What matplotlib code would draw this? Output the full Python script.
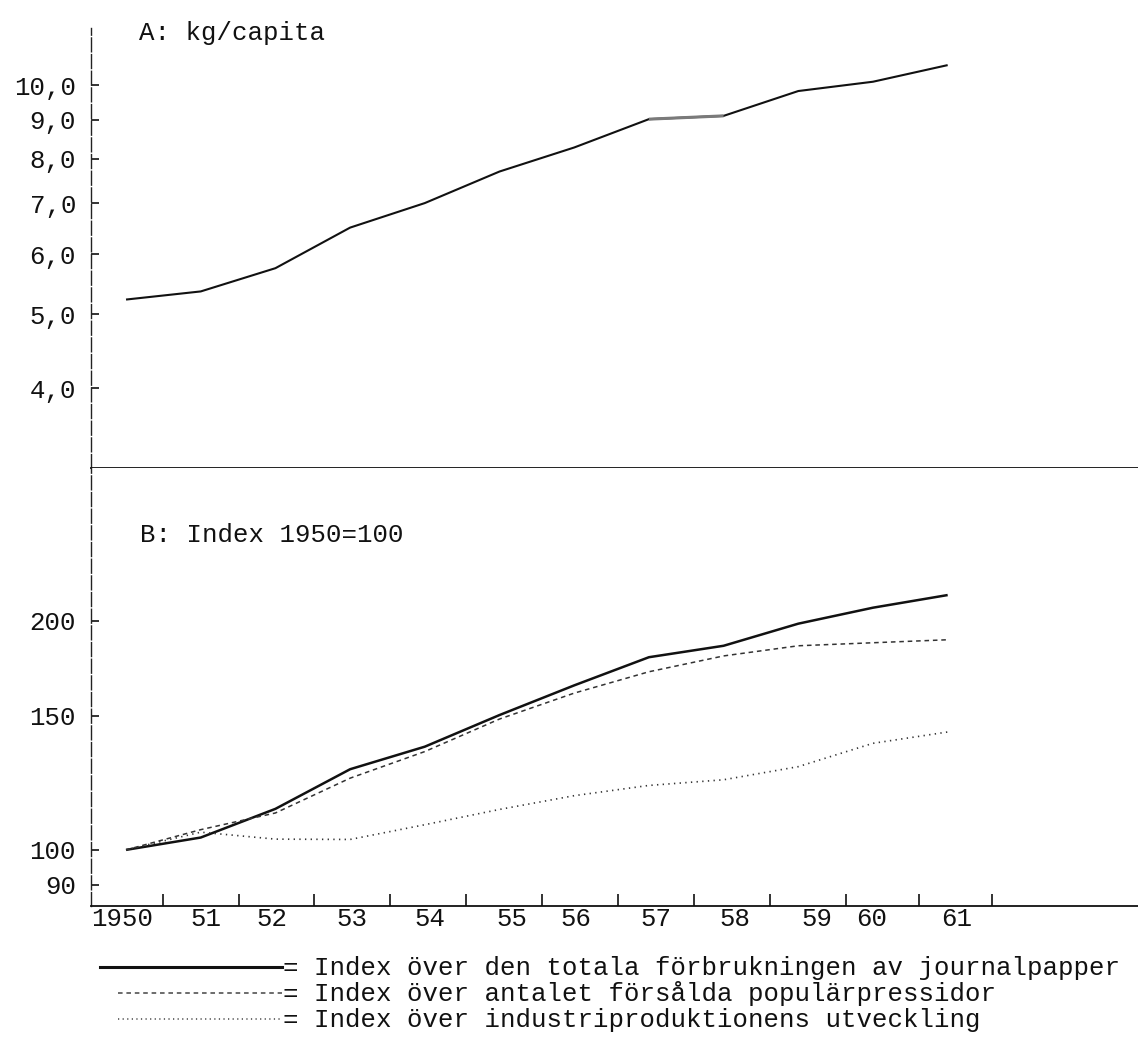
import matplotlib
matplotlib.use('Agg')
import matplotlib.pyplot as plt
from matplotlib.lines import Line2D
from matplotlib.ticker import FixedLocator, NullLocator, FixedFormatter

# ---------------- data ----------------
years = [1950, 1951, 1952, 1953, 1954, 1955, 1956, 1957, 1958, 1959, 1960, 1961]
kg_per_capita = [5.23, 5.36, 5.75, 6.50, 7.00, 7.70, 8.28, 9.02, 9.11, 9.82, 10.10, 10.62]
index_paper = [100, 103.8, 113.2, 127.6, 136.6, 150.3, 164.4, 179.0, 185.3, 198.1, 207.9, 216.0]
index_press = [100, 106.3, 111.8, 124.2, 134.6, 148.5, 160.6, 171.3, 179.7, 185.3, 187.0, 188.7]
index_industry = [100, 105.5, 103.3, 103.2, 107.9, 113.0, 117.8, 121.5, 123.6, 128.6, 138.0, 142.8]

top_ticks = [4, 5, 6, 7, 8, 9, 10]
top_tick_labels = ['4,0', '5,0', '6,0', '7,0', '8,0', '9,0', '10,0']
bottom_ticks = [90, 100, 150, 200]
bottom_tick_labels = ['90', '100', '150', '200']

x_labels = ['1950', '51', '52', '53', '54', '55', '56', '57', '58', '59', '60', '61']
x_label_pos = [1949.95, 1951.07, 1951.95, 1953.02, 1954.07, 1955.16, 1956.02,
               1957.10, 1958.15, 1959.25, 1959.98, 1961.12]
x_tick_marks = [1950.49, 1951.51, 1952.51, 1953.54, 1954.55, 1955.57, 1956.59,
                1957.60, 1958.62, 1959.64, 1960.62, 1961.60]

title_a = 'A: kg/capita'
title_b = 'B: Index 1950=100'
legend_labels = ['= Index över den totala förbrukningen av journalpapper',
                 '= Index över antalet försålda populärpressidor',
                 '= Index över industriproduktionens utveckling']

# ---------------- style ----------------
plt.rcParams['font.family'] = ['Liberation Mono', 'DejaVu Sans Mono']
FS = 18.5
W, H = 1138, 1049
fig = plt.figure(figsize=(W / 100, H / 100), dpi=100)
fig.patch.set_facecolor('white')

left = 91 / W
width = (1138 - 91) / W
ax_top = fig.add_axes([left, 1 - 468 / H, width, 440 / H])
ax_bot = fig.add_axes([left, 1 - 906 / H, width, 438 / H])

xlim = (1949.531, 1963.548)
for ax in (ax_top, ax_bot):
    ax.set_xlim(*xlim)
    ax.set_yscale('log')
    ax.spines['top'].set_visible(False)
    ax.spines['right'].set_visible(False)
    ax.spines['left'].set_linewidth(1.0)
    ax.spines['left'].set_linestyle((0, (10, 2)))
    ax.spines['left'].set_color('#222222')
    ax.spines['bottom'].set_linewidth(1.3)
    ax.spines['bottom'].set_color('#111111')
    ax.yaxis.set_minor_locator(NullLocator())
    ax.tick_params(axis='y', which='major', direction='in', length=6, width=1.2,
                   pad=10.8, labelsize=FS, colors='#111111')

# top panel
ax_top.set_ylim(3.144, 11.88)
ax_top.yaxis.set_major_locator(FixedLocator(top_ticks))
ax_top.yaxis.set_major_formatter(FixedFormatter(top_tick_labels))
ax_top.xaxis.set_major_locator(NullLocator())
ax_top.xaxis.set_minor_locator(NullLocator())
ax_top.plot(years, kg_per_capita, color='#111111', lw=1.5, solid_capstyle='butt')
ax_top.plot(years[7:9], kg_per_capita[7:9], color='#7a7a7a', lw=2.2, solid_capstyle='butt')

# bottom panel
ax_bot.set_ylim(84.4, 317.1)
ax_bot.yaxis.set_major_locator(FixedLocator(bottom_ticks))
ax_bot.yaxis.set_major_formatter(FixedFormatter(bottom_tick_labels))
ax_bot.xaxis.set_major_locator(FixedLocator(x_label_pos))
ax_bot.xaxis.set_major_formatter(FixedFormatter(x_labels))
ax_bot.xaxis.set_minor_locator(FixedLocator(x_tick_marks))
ax_bot.tick_params(axis='x', which='major', length=0, pad=1, labelsize=FS, colors='#111111')
ax_bot.tick_params(axis='x', which='minor', direction='in', length=9, width=1.2, color='#111111')

ax_bot.plot(years, index_paper, color='#111111', lw=1.8, solid_capstyle='butt')
ax_bot.plot(years, index_press, color='#333333', lw=1.1, linestyle=(0, (3, 2.5)))
ax_bot.plot(years, index_industry, color='#333333', lw=1.2, linestyle=(0, (0.8, 2.6)))

# titles
fig.text(139 / W, 1 - 33 / H, title_a, fontsize=FS, va='center', ha='left', color='#111111')
fig.text(140 / W, 1 - 535 / H, title_b, fontsize=FS, va='center', ha='left', color='#111111')

# legend (typed key lines)
legend_y = [967, 993, 1019]
legend_styles = [dict(color='#111111', lw=2.2, linestyle='-'),
                 dict(color='#444444', lw=1.1, linestyle=(0, (3, 2.5))),
                 dict(color='#444444', lw=1.1, linestyle=(0, (0.8, 2.2)))]
legend_x0 = [100, 118, 118]
for yy, st, x0, lab in zip(legend_y, legend_styles, legend_x0, legend_labels):
    fig.add_artist(Line2D([x0 / W, 282 / W], [1 - yy / H, 1 - yy / H], **st))
    fig.text(283 / W, 1 - (yy + 1) / H, lab, fontsize=FS, va='center', ha='left', color='#111111')

fig.savefig('out.png', dpi=100, facecolor='white')
